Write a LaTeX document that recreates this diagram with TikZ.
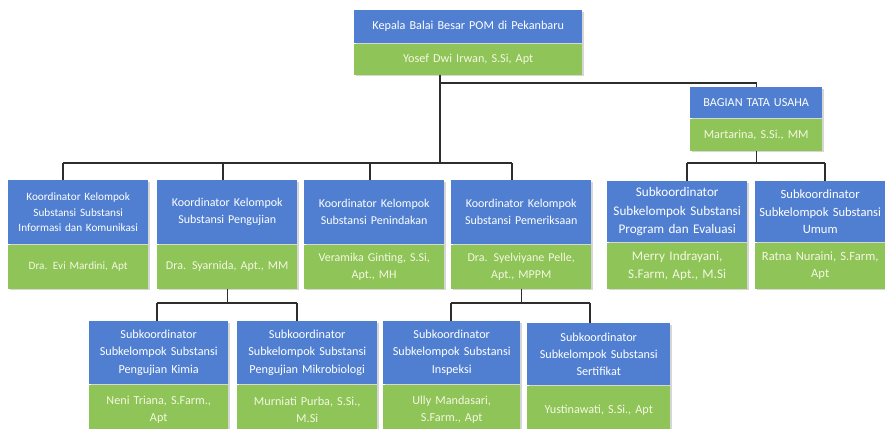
\documentclass[tikz,border=0pt]{standalone}
\usepackage{fontspec}
\setmainfont{Carlito}
\definecolor{bx}{RGB}{80,127,210}
\definecolor{gx}{RGB}{142,196,88}
\definecolor{lnc}{RGB}{45,45,45}
\definecolor{gtx}{RGB}{245,248,225}
\tikzset{
  blu/.style={fill=bx, text=white, anchor=north west, inner xsep=2pt, inner ysep=0pt, align=center},
  grn/.style={fill=gx, text=gtx, anchor=north west, inner xsep=2pt, inner ysep=0pt, align=center},
  conn/.style={draw=lnc, line width=1.2pt},
  shad/.style={fill=black!16}
}
\newcommand{\obox}[9]{%
  \pgfmathsetmacro{\tw}{#4-4}%
  \pgfmathsetmacro{\bsa}{#9*1.42}%
  \pgfmathsetmacro{\bsb}{#9*1.38}%
  \fill[shad] (#2+2,#3+2) rectangle (#2+#4+2,#3+#5+#6+2);
  \node[blu, minimum width=#4pt, minimum height=#5pt, text width=\tw pt,
        font=\fontsize{#9}{\bsa}\selectfont] (#1b) at (#2,#3) {#7};
  \node[grn, minimum width=#4pt, minimum height=#6pt, text width=\tw pt,
        font=\fontsize{#9}{\bsb}\selectfont] (#1g) at (#1b.south west) {#8};
}
\begin{document}
\begin{tikzpicture}[x=1pt,y=-1pt]
\useasboundingbox[fill=white] (0,0) rectangle (885,428);
% boxes
\obox{top}{354}{10}{228}{33}{31}{Kepala Balai Besar POM di Pekanbaru}{Yosef Dwi Irwan, S.Si, Apt}{12.2}
\obox{tu}{690}{87}{132}{31}{32}{BAGIAN TATA USAHA}{Martarina, S.Si., MM}{12.2}
\obox{ka}{8}{180}{140}{64}{44}{Koordinator Kelompok\\Substansi Substansi\\Informasi dan Komunikasi}{Dra. Evi Mardini, Apt}{11.2}
\obox{kb}{157}{180}{140}{64}{44}{Koordinator Kelompok\\Substansi Pengujian}{Dra. Syarnida, Apt., MM}{12}
\obox{kc}{304}{180}{140}{64}{44}{Koordinator Kelompok\\Substansi Penindakan}{Veramika Ginting, S.Si,\\Apt., MH}{12}
\obox{kd}{451}{180}{140}{64}{44}{Koordinator Kelompok\\Substansi Pemeriksaan}{Dra. Syelviyane Pelle,\\Apt., MPPM}{12}
\obox{sa}{607}{181}{140}{61}{46}{Subkoordinator\\Subkelompok Substansi\\Program dan Evaluasi}{Merry Indrayani,\\S.Farm, Apt., M.Si}{13.2}
\obox{sb}{755}{181}{130}{61}{46}{Subkoordinator\\Subkelompok Substansi\\Umum}{Ratna Nuraini, S.Farm,\\Apt}{12.6}
\obox{ba}{89}{321}{139}{63}{50}{Subkoordinator\\Subkelompok Substansi\\Pengujian Kimia}{Neni Triana, S.Farm.,\\Apt}{12.2}
\obox{bb}{237}{321}{140}{63}{50}{Subkoordinator\\Subkelompok Substansi\\Pengujian Mikrobiologi}{Murniati Purba, S.Si.,\\M.Si}{12.2}
\obox{bc}{383}{321}{137}{63}{50}{Subkoordinator\\Subkelompok Substansi\\Inspeksi}{Ully Mandasari,\\S.Farm., Apt}{12.2}
\obox{bd}{527}{323}{143}{62}{50}{Subkoordinator\\Subkelompok Substansi\\Sertifikat}{Yustinawati, S.Si., Apt}{12.2}
% junction coordinates
\coordinate (jt) at (440,83);
\coordinate (jk) at (440,163);
\coordinate (kl) at (63,163);
\coordinate (k2) at (223,163);
\coordinate (k3) at (370,163);
\coordinate (kr) at (512,163);
\coordinate (sl) at (687,163);
\coordinate (sr) at (825,163);
\coordinate (bl) at (157,303);
\coordinate (br) at (297,303);
\coordinate (cl) at (451,303);
\coordinate (cr) at (590,303);
% connectors
\draw[conn] (topg.south -| jt) -- (jk);
\draw[conn] (jt) -| (tub.north);
\draw[conn] (kl) -- (kr);
\draw[conn] (kl) -- (kl |- kab.north);
\draw[conn] (k2) -- (k2 |- kbb.north);
\draw[conn] (k3) -- (k3 |- kcb.north);
\draw[conn] (kr) -- (kr |- kdb.north);
\draw[conn] (tug.south) -- (tug.south |- sl);
\draw[conn] (sl) -- (sr);
\draw[conn] (sl) -- (sl |- sab.north);
\draw[conn] (sr) -- (sr |- sbb.north);
\draw[conn] (kbg.south) -- (kbg.south |- bl);
\draw[conn] (bl) -- (br);
\draw[conn] (bl) -- (bl |- bab.north);
\draw[conn] (br) -- (br |- bbb.north);
\draw[conn] (kdg.south) -- (kdg.south |- cl);
\draw[conn] (cl) -- (cr);
\draw[conn] (cl) -- (cl |- bcb.north);
\draw[conn] (cr) -- (cr |- bdb.north);
\end{tikzpicture}
\end{document}
